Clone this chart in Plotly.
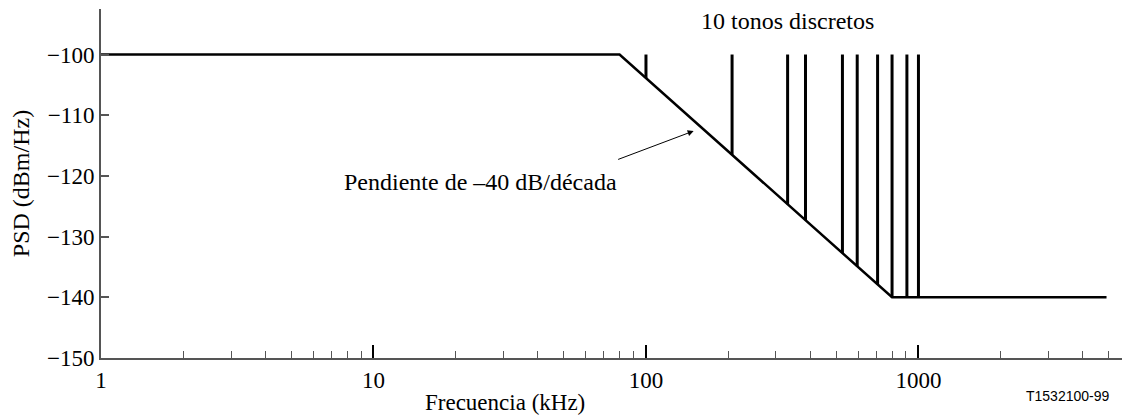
import math
import plotly.graph_objects as go

# PSD mask breakpoints (kHz, dBm/Hz)
mask_freq = [1, 80, 800, 4900]
mask_psd = [-100, -100, -140, -140]

# discrete tones (kHz)
tone_freq = [100, 207, 331, 385, 526, 596, 708, 800, 907, 1000]
tone_top = -100

x_major = [1, 10, 100, 1000]
x_major_labels = ["1", "10", "100", "1000"]
x_minor = [2, 3, 4, 5, 6, 7, 8, 9, 20, 30, 40, 50, 60, 70, 80, 90,
           200, 300, 400, 500, 600, 700, 800, 900, 2000, 3000, 4000, 5000]
y_ticks = [-150, -140, -130, -120, -110, -100]


def mask_value(f):
    # read along the drawn mask (piecewise linear in log f)
    lf = math.log10(f)
    for i in range(len(mask_freq) - 1):
        a, b = math.log10(mask_freq[i]), math.log10(mask_freq[i + 1])
        if a <= lf <= b:
            t = (lf - a) / (b - a)
            return mask_psd[i] + t * (mask_psd[i + 1] - mask_psd[i])
    return mask_psd[-1]


SERIF = "Liberation Serif, Times New Roman, serif"
fig = go.Figure()

# tones
tx, ty = [], []
for f in tone_freq:
    tx += [f, f, None]
    ty += [tone_top, mask_value(f), None]
fig.add_trace(go.Scatter(x=tx, y=ty, mode="lines",
                         line=dict(color="black", width=3),
                         hoverinfo="skip", showlegend=False))

# mask
fig.add_trace(go.Scatter(x=mask_freq, y=mask_psd, mode="lines",
                         line=dict(color="black", width=2.5),
                         showlegend=False))

# the page body has an 8px margin, so the figure is 8px smaller and margins shifted
fig.update_layout(
    width=1122, height=409,
    margin=dict(l=93, r=8, t=1, b=59, autoexpand=False),
    paper_bgcolor="white", plot_bgcolor="white",
    font=dict(family=SERIF, size=23, color="black"),
    showlegend=False,
)

fig.update_xaxes(
    type="log", range=[0, 3.747],
    tickmode="array", tickvals=x_major, ticktext=x_major_labels,
    ticks="inside", ticklen=13, tickwidth=2, tickcolor="black",
    showline=True, linecolor="#555555", linewidth=2,
    showgrid=False, zeroline=False,
    tickfont=dict(family=SERIF, size=23, color="black"),
    minor=dict(tickmode="array", tickvals=x_minor, ticks="inside",
               ticklen=7, tickwidth=1, tickcolor="#555555", showgrid=False),
)

fig.update_yaxes(
    range=[-150, -92.5],
    tickmode="array", tickvals=y_ticks,
    ticks="inside", ticklen=8, tickwidth=1.5, tickcolor="#555555",
    showline=True, linecolor="#555555", linewidth=2,
    showgrid=False, zeroline=False,
    tickfont=dict(family=SERIF, size=23, color="black"),
    title=dict(text="PSD (dBm/Hz)", font=dict(family=SERIF, size=24),
               standoff=14),
)

# x-axis title (off-centre, as in the reference)
fig.add_annotation(xref="paper", yref="paper", x=0.396, y=-0.127,
                   text="Frecuencia (kHz)", showarrow=False,
                   xanchor="center", yanchor="middle",
                   font=dict(family=SERIF, size=23, color="black"))

fig.add_annotation(xref="paper", yref="paper", x=0.99, y=-0.108,
                   text="T1532100-99", showarrow=False,
                   xanchor="right", yanchor="middle",
                   font=dict(family="Liberation Sans, Arial, sans-serif",
                             size=14, color="black"))

fig.add_annotation(xref="x", yref="y", x=math.log10(330), y=-94.4,
                   text="10 tonos discretos", showarrow=False,
                   xanchor="center", yanchor="middle",
                   font=dict(family=SERIF, size=24, color="black"))

fig.add_annotation(xref="x", yref="y", x=math.log10(24.7), y=-121.0,
                   text="Pendiente de \u201340 dB/década", showarrow=False,
                   xanchor="center", yanchor="middle",
                   font=dict(family=SERIF, size=24, color="black"))

fig.add_annotation(xref="x", yref="y", x=math.log10(149.6), y=-112.6,
                   ax=-77, ay=29, axref="pixel", ayref="pixel",
                   text="", showarrow=True, arrowhead=2, arrowsize=1.2,
                   arrowwidth=1, arrowcolor="black")

fig.write_html("out.html")
